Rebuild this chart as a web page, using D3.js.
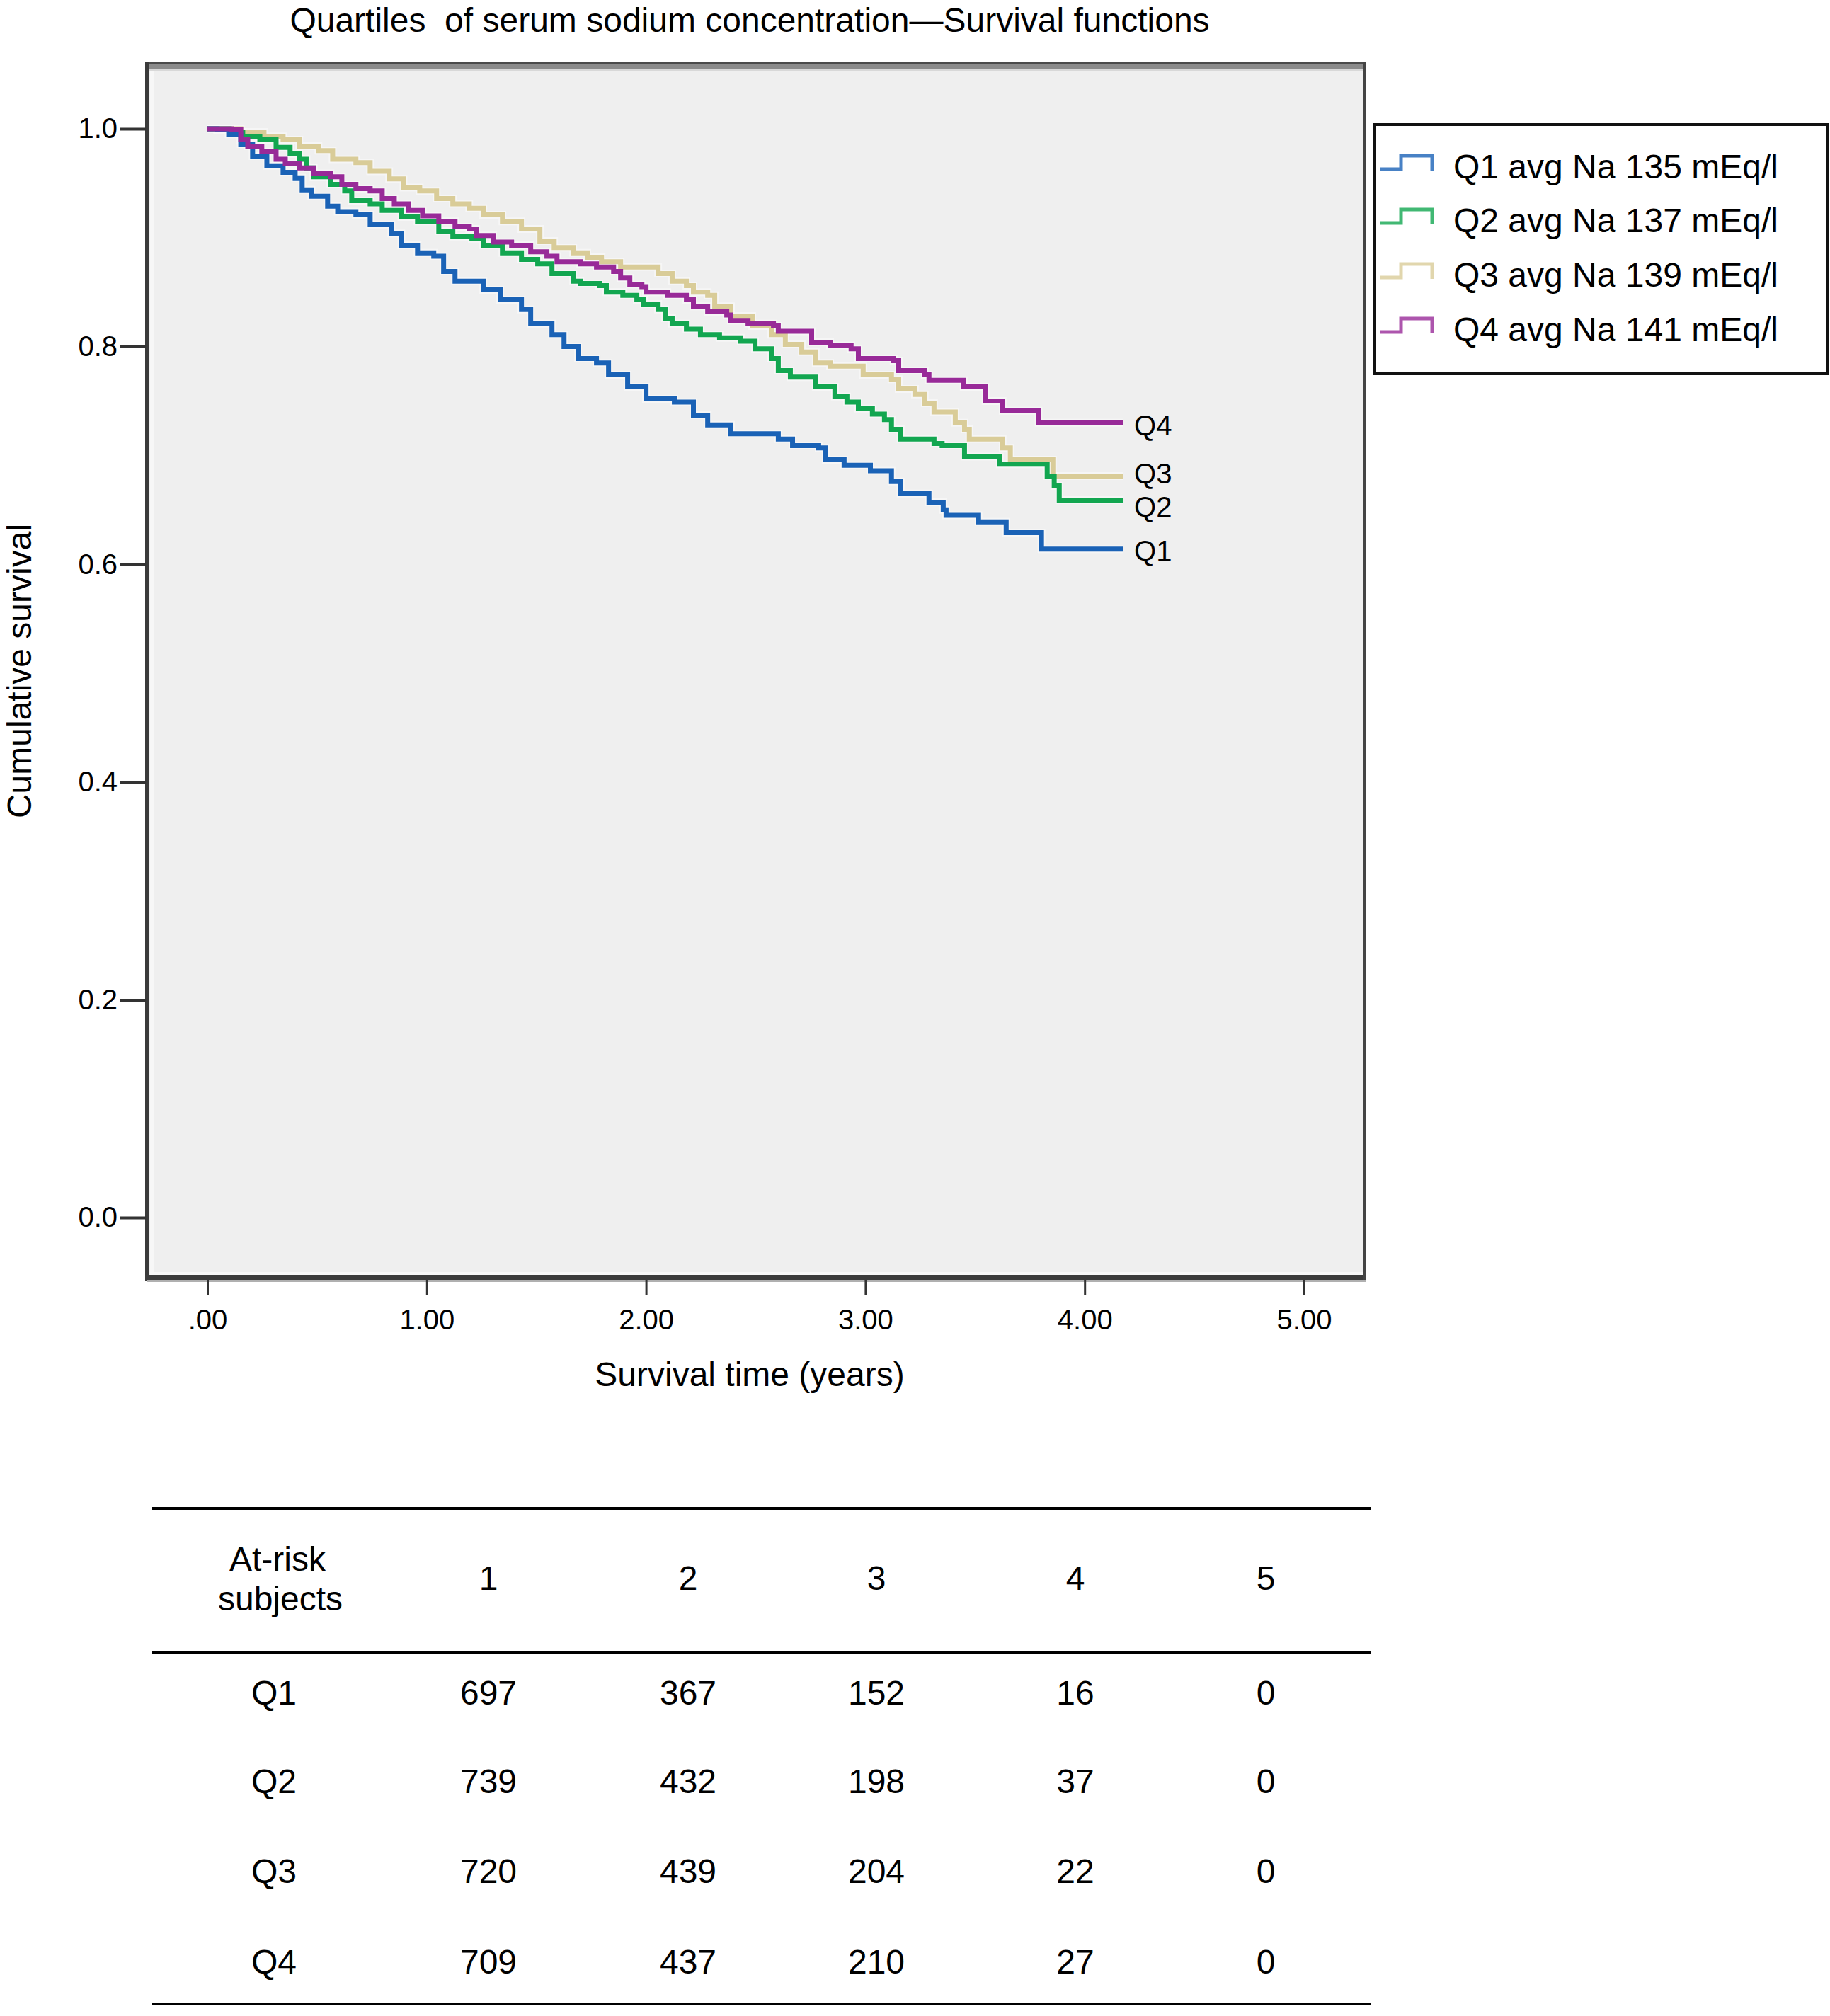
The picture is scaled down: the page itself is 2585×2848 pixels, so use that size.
<!DOCTYPE html>
<html>
<head>
<meta charset="utf-8">
<script src="https://cdn.jsdelivr.net/npm/d3@7"></script>
<style>
  html, body { margin: 0; padding: 0; background: #fff; }
  text { font-family: "Liberation Sans", Arial, Helvetica, sans-serif; fill: #000; }
</style>
</head>
<body>
<svg id="chart" width="2585" height="2848"></svg>
<script>
// ---------------- DATA ----------------
const title = "Quartiles\u00a0 of serum sodium concentration\u2014Survival functions";
const xTicks = [0, 1, 2, 3, 4, 5];
const yTicks = [0, 0.2, 0.4, 0.6, 0.8, 1.0];
const seriesNames = ["Q1", "Q2", "Q3", "Q4"];
const legendLabels = ["Q1 avg Na 135 mEq/l", "Q2 avg Na 137 mEq/l", "Q3 avg Na 139 mEq/l", "Q4 avg Na 141 mEq/l"];
const seriesColors = ["#1a62b6", "#12a650", "#d9cc98", "#982a98"];

// Kaplan-Meier steps: [time (years), cumulative survival]
const q1Data = [[0,1],[0.045,0.999],[0.097,0.995],[0.152,0.986],[0.206,0.975],[0.271,0.966],[0.345,0.960],[0.400,0.955],[0.432,0.944],[0.474,0.938],[0.548,0.929],[0.594,0.924],[0.677,0.921],[0.742,0.912],[0.839,0.904],[0.884,0.893],[0.958,0.886],[1.032,0.883],[1.077,0.869],[1.129,0.860],[1.258,0.852],[1.335,0.843],[1.432,0.834],[1.474,0.821],[1.571,0.811],[1.626,0.800],[1.690,0.789],[1.774,0.785],[1.829,0.774],[1.916,0.763],[2.000,0.752],[2.129,0.749],[2.216,0.737],[2.281,0.728],[2.387,0.720],[2.603,0.715],[2.668,0.709],[2.787,0.707],[2.819,0.696],[2.903,0.691],[3.023,0.686],[3.119,0.676],[3.161,0.665],[3.290,0.657],[3.355,0.650],[3.368,0.645],[3.516,0.639],[3.642,0.629],[3.803,0.614],[4.174,0.614]];
const q2Data = [[0,1],[0.100,0.997],[0.161,0.993],[0.239,0.990],[0.313,0.983],[0.377,0.977],[0.419,0.972],[0.452,0.964],[0.484,0.956],[0.561,0.949],[0.626,0.943],[0.658,0.934],[0.742,0.931],[0.797,0.925],[0.884,0.919],[0.958,0.915],[1.055,0.906],[1.119,0.901],[1.206,0.899],[1.258,0.893],[1.345,0.886],[1.432,0.880],[1.506,0.876],[1.571,0.867],[1.668,0.860],[1.700,0.858],[1.787,0.856],[1.819,0.850],[1.894,0.847],[1.958,0.843],[1.990,0.839],[2.055,0.834],[2.087,0.826],[2.119,0.821],[2.184,0.816],[2.248,0.811],[2.335,0.808],[2.432,0.805],[2.497,0.798],[2.571,0.789],[2.603,0.778],[2.658,0.772],[2.774,0.763],[2.861,0.754],[2.916,0.749],[2.968,0.743],[3.032,0.738],[3.087,0.733],[3.119,0.724],[3.161,0.715],[3.313,0.711],[3.350,0.709],[3.452,0.699],[3.613,0.692],[3.829,0.681],[3.861,0.672],[3.884,0.659],[4.174,0.659]];
const q3Data = [[0,1],[0.152,0.997],[0.258,0.993],[0.345,0.990],[0.419,0.984],[0.506,0.980],[0.571,0.972],[0.677,0.969],[0.742,0.961],[0.829,0.954],[0.894,0.946],[0.968,0.943],[1.045,0.936],[1.119,0.931],[1.194,0.927],[1.258,0.921],[1.345,0.915],[1.432,0.908],[1.516,0.897],[1.581,0.891],[1.668,0.886],[1.732,0.882],[1.797,0.878],[1.884,0.873],[2.055,0.867],[2.119,0.860],[2.184,0.856],[2.216,0.850],[2.281,0.847],[2.313,0.837],[2.387,0.828],[2.484,0.819],[2.571,0.811],[2.635,0.802],[2.710,0.795],[2.774,0.785],[2.839,0.782],[2.990,0.774],[3.119,0.770],[3.152,0.761],[3.226,0.756],[3.271,0.748],[3.313,0.740],[3.410,0.730],[3.452,0.724],[3.474,0.715],[3.626,0.707],[3.661,0.696],[3.855,0.681],[4.174,0.681]];
const q4Data = [[0,1],[0.110,0.999],[0.152,0.990],[0.184,0.984],[0.248,0.979],[0.313,0.972],[0.355,0.968],[0.419,0.964],[0.484,0.959],[0.561,0.956],[0.613,0.949],[0.677,0.945],[0.742,0.943],[0.797,0.936],[0.852,0.931],[0.916,0.925],[0.981,0.920],[1.055,0.915],[1.129,0.910],[1.194,0.908],[1.226,0.902],[1.303,0.896],[1.387,0.893],[1.474,0.887],[1.548,0.883],[1.594,0.878],[1.700,0.876],[1.774,0.873],[1.852,0.869],[1.884,0.863],[1.926,0.857],[1.981,0.855],[2.000,0.850],[2.097,0.847],[2.184,0.843],[2.216,0.837],[2.281,0.832],[2.368,0.829],[2.387,0.824],[2.465,0.821],[2.581,0.819],[2.603,0.814],[2.755,0.804],[2.839,0.801],[2.935,0.798],[2.968,0.789],[3.129,0.787],[3.152,0.778],[3.271,0.774],[3.290,0.769],[3.448,0.763],[3.548,0.750],[3.626,0.741],[3.790,0.730],[4.174,0.730]];

// At-risk table
const tableYears = [1, 2, 3, 4, 5];
const atRiskQ1 = [697, 367, 152, 16, 0];
const atRiskQ2 = [739, 432, 198, 37, 0];
const atRiskQ3 = [720, 439, 204, 22, 0];
const atRiskQ4 = [709, 437, 210, 27, 0];

// ---------------- DRAW ----------------
const svg = d3.select("#chart");
const series = [q1Data, q2Data, q3Data, q4Data];
const atRisk = [atRiskQ1, atRiskQ2, atRiskQ3, atRiskQ4];

const box = { left: 208, top: 87, right: 1929, bottom: 1808 };
const x = d3.scaleLinear().domain([0, 5]).range([293, 1842]);
const y = d3.scaleLinear().domain([0, 1]).range([1720, 182]);

// title
svg.append("text").attr("x", 1059).attr("y", 45).attr("text-anchor", "middle")
  .attr("font-size", 48).text(title);

// plot background and frame
svg.append("rect").attr("x", box.left).attr("y", box.top)
  .attr("width", box.right - box.left).attr("height", box.bottom - box.top)
  .attr("fill", "#efefef");
svg.append("rect").attr("x", box.left + 4).attr("y", box.top + 9).attr("width", 6).attr("height", box.bottom - box.top - 15).attr("fill", "#f7f7f7");
svg.append("rect").attr("x", box.left + 4).attr("y", box.bottom - 11).attr("width", box.right - box.left - 8).attr("height", 4).attr("fill", "#f8f8f8");
svg.append("rect").attr("x", box.left).attr("y", box.top).attr("width", box.right - box.left).attr("height", 10).attr("fill", "#8a8a8a");
svg.append("rect").attr("x", box.left).attr("y", box.top).attr("width", box.right - box.left).attr("height", 4).attr("fill", "#4a4a4a");
svg.append("rect").attr("x", box.left).attr("y", box.top + 10).attr("width", box.right - box.left).attr("height", 3).attr("fill", "#d8d8d8");
svg.append("rect").attr("x", box.left - 3).attr("y", box.top).attr("width", 6).attr("height", box.bottom - box.top + 2).attr("fill", "#3a3a3a");
svg.append("rect").attr("x", box.left - 3).attr("y", box.bottom - 7).attr("width", box.right - box.left + 3).attr("height", 7).attr("fill", "#3c3c3c");
svg.append("rect").attr("x", box.left).attr("y", box.bottom).attr("width", box.right - box.left).attr("height", 3).attr("fill", "#b0b0b0");
svg.append("rect").attr("x", box.right - 4).attr("y", box.top).attr("width", 4).attr("height", box.bottom - box.top).attr("fill", "#444");

// axes
const yAxis = d3.axisLeft(y).tickValues(yTicks).tickFormat(d3.format(".1f")).tickSize(37).tickPadding(3);
const gy = svg.append("g").attr("transform", `translate(${box.left - 2},0)`).call(yAxis);
gy.select(".domain").remove();
gy.selectAll(".tick line").attr("stroke", "#333").attr("stroke-width", 4);
gy.selectAll(".tick text").attr("font-size", 40).attr("font-family", "Liberation Sans, Arial, sans-serif").attr("fill", "#000");

const xAxis = d3.axisBottom(x).tickValues(xTicks)
  .tickFormat(d => d === 0 ? ".00" : d.toFixed(2)).tickSize(22).tickPadding(20);
const gx = svg.append("g").attr("transform", `translate(0,${box.bottom})`).call(xAxis);
gx.select(".domain").remove();
gx.selectAll(".tick line").attr("stroke", "#333").attr("stroke-width", 3);
gx.selectAll(".tick text").attr("font-size", 40).attr("font-family", "Liberation Sans, Arial, sans-serif").attr("fill", "#000");

// axis titles
svg.append("text").attr("x", 1059).attr("y", 1958).attr("text-anchor", "middle")
  .attr("font-size", 48).text("Survival time (years)");
svg.append("text").attr("transform", "translate(44,948) rotate(-90)").attr("text-anchor", "middle")
  .attr("font-size", 48).text("Cumulative survival");

// curves
const line = d3.line().x(d => x(d[0])).y(d => y(d[1])).curve(d3.curveStepAfter);
const drawOrder = [2, 1, 0, 3];
const gc = svg.append("g");
drawOrder.forEach(i => {
  gc.append("path").attr("d", line(series[i])).attr("fill", "none")
    .attr("stroke", "#fbfbfb").attr("stroke-width", 11).attr("stroke-opacity", 0.55);
});
drawOrder.forEach(i => {
  gc.append("path").attr("d", line(series[i])).attr("fill", "none")
    .attr("stroke", seriesColors[i]).attr("stroke-width", 7)
    .attr("stroke-linejoin", "miter").attr("stroke-linecap", "butt");
});

// end labels
const endLabelY = [792, 730, 683, 615];
series.forEach((s, i) => {
  const last = s[s.length - 1];
  svg.append("text").attr("x", x(last[0]) + 16).attr("y", endLabelY[i])
    .attr("font-size", 40).text(seriesNames[i]);
});

// legend
const lg = svg.append("g");
lg.append("rect").attr("x", 1942).attr("y", 176).attr("width", 639).attr("height", 352)
  .attr("fill", "#fff").attr("stroke", "#111").attr("stroke-width", 4);
const legendBaselines = [252, 328, 405, 482];
legendLabels.forEach((lab, i) => {
  const b = legendBaselines[i];
  lg.append("path")
    .attr("d", `M1949,${b - 13}H1979V${b - 32}H2023V${b - 11}`)
    .attr("fill", "none").attr("stroke", seriesColors[i]).attr("stroke-width", 5)
    .attr("stroke-opacity", 0.8);
  lg.append("text").attr("x", 2053).attr("y", b).attr("font-size", 48).text(lab);
});

// at-risk table
const tg = svg.append("g");
[2131, 2334, 2831].forEach(ly => {
  tg.append("line").attr("x1", 215).attr("x2", 1937).attr("y1", ly).attr("y2", ly)
    .attr("stroke", "#000").attr("stroke-width", 4);
});
const colX = [690, 972, 1238, 1519, 1788];
tg.append("text").attr("x", 392).attr("y", 2219).attr("text-anchor", "middle").attr("font-size", 48).text("At-risk");
tg.append("text").attr("x", 396).attr("y", 2275).attr("text-anchor", "middle").attr("font-size", 48).text("subjects");
tableYears.forEach((yr, j) => {
  tg.append("text").attr("x", colX[j]).attr("y", 2246).attr("text-anchor", "middle").attr("font-size", 48).text(yr);
});
const rowY = [2408, 2533, 2660, 2788];
atRisk.forEach((row, i) => {
  tg.append("text").attr("x", 387).attr("y", rowY[i]).attr("text-anchor", "middle").attr("font-size", 48).text(seriesNames[i]);
  row.forEach((v, j) => {
    tg.append("text").attr("x", colX[j]).attr("y", rowY[i]).attr("text-anchor", "middle").attr("font-size", 48).text(v);
  });
});
</script>
</body>
</html>
